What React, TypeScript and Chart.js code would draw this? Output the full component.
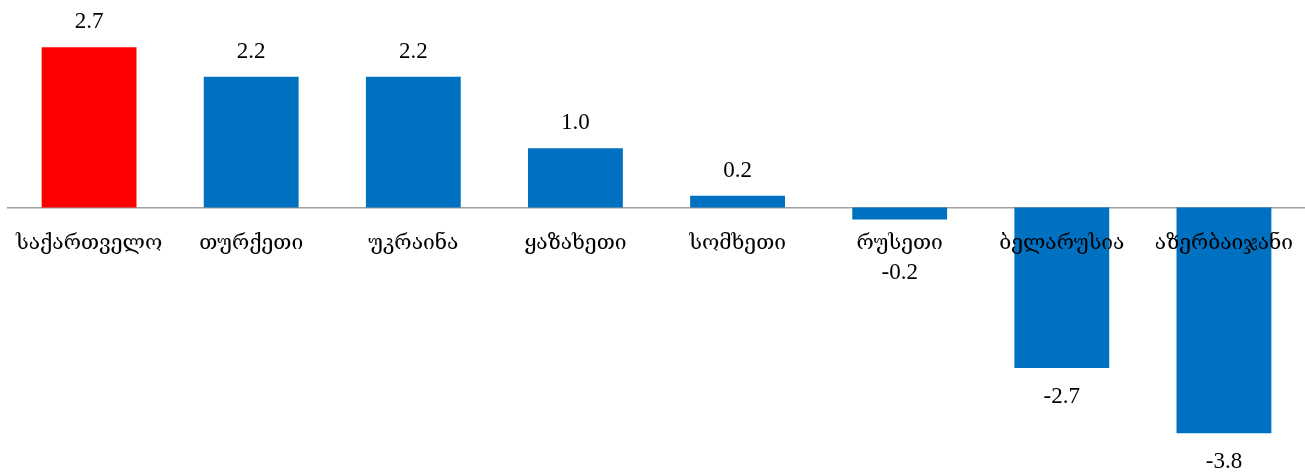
import React, { useEffect, useRef } from "react";
import { Chart, registerables } from "chart.js";

Chart.register(...registerables);

const categories = ["საქართველო", "თურქეთი", "უკრაინა", "ყაზახეთი", "სომხეთი", "რუსეთი", "ბელარუსია", "აზერბაიჯანი"];
const values = [2.7, 2.2, 2.2, 1.0, 0.2, -0.2, -2.7, -3.8];
const barColors = ["#FF0000", "#0070C0", "#0070C0", "#0070C0", "#0070C0", "#0070C0", "#0070C0", "#0070C0"];

const FONT = "'Liberation Serif', 'DejaVu Serif', serif";

const labelsPlugin = {
  id: "labelsPlugin",
  afterDatasetsDraw(chart: any) {
    const ctx = chart.ctx;
    const meta = chart.getDatasetMeta(0);
    const xScale = chart.scales.x;
    const zeroY = chart.scales.y.getPixelForValue(0);
    ctx.save();
    ctx.fillStyle = "#000";
    ctx.textAlign = "center";
    ctx.textBaseline = "middle";
    // category labels just under the zero line, on top of bars
    ctx.font = `21px ${FONT}`;
    categories.forEach((c, i) => {
      ctx.fillText(c, xScale.getPixelForTick(i), zeroY + 36);
    });
    // value labels
    ctx.font = `23px ${FONT}`;
    meta.data.forEach((el: any, i: number) => {
      const v = values[i];
      let y;
      if (v >= 0) y = el.y - 25;
      else y = Math.max(el.y + 29, zeroY + 65);
      ctx.fillText(v.toFixed(1), el.x, y);
    });
    ctx.restore();
  },
};

export default function App() {
  const ref = useRef<HTMLCanvasElement>(null);
  useEffect(() => {
    if (!ref.current) return;
    const chart = new Chart(ref.current, {
      type: "bar",
      data: {
        labels: categories,
        datasets: [
          {
            data: values,
            backgroundColor: barColors,
            barPercentage: 0.585,
            categoryPercentage: 1,
          },
        ],
      },
      options: {
        animation: false,
        responsive: true,
        maintainAspectRatio: false,
        layout: { padding: { left: 8, right: 0, top: 11.5, bottom: 5 } },
        plugins: { legend: { display: false }, tooltip: { enabled: false } },
        scales: {
          x: {
            position: { y: 0 } as any,
            grid: { display: false, drawTicks: false },
            border: { display: true, color: "#A0A0A0", width: 1.5 },
            ticks: { display: false },
          },
          y: {
            display: false,
            min: -4.4,
            max: 3.3,
          },
        },
      },
      plugins: [labelsPlugin],
    });
    return () => chart.destroy();
  }, []);
  return (
    <div style={{ position: "fixed", left: 0, top: 0, width: 1305, height: 474, background: "#fff" }}>
      <canvas ref={ref} />
    </div>
  );
}
